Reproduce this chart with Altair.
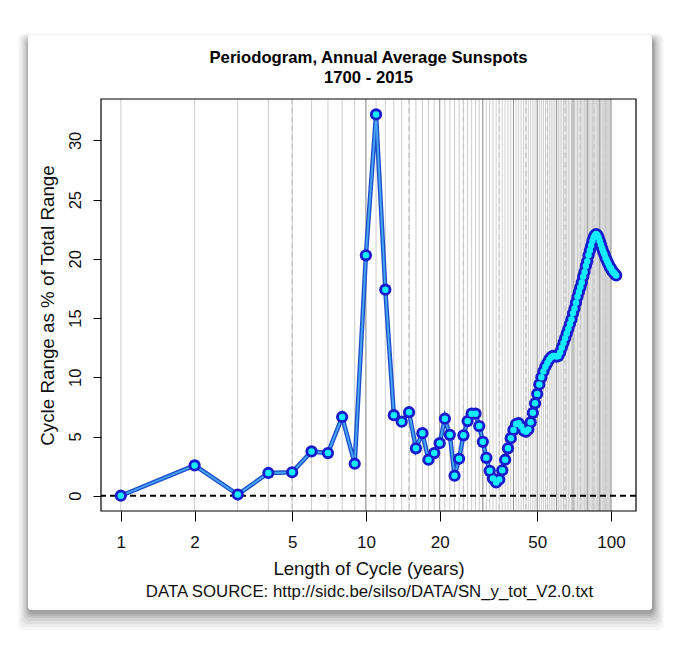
import altair as alt
import pandas as pd

# ---- data ----
cycle_years = list(range(1, 106))
cycle_range = [
    0.0, 2.56, 0.1, 1.92, 1.98, 3.74, 3.6, 6.65, 2.7, 20.3,
    32.2, 17.4, 6.8, 6.25, 7.05, 4.0, 5.28, 3.04, 3.6, 4.44,
    6.5, 5.14, 1.69, 3.12, 5.1, 6.3, 6.93, 6.93, 5.88, 4.55,
    3.2, 2.1, 1.45, 1.12, 1.37, 2.15, 3.04, 4.0, 4.86, 5.56,
    6.05, 6.13, 5.85, 5.5, 5.4, 5.6, 6.2, 7.0, 7.8, 8.6,
    9.4, 10.0, 10.5, 10.9, 11.2, 11.5, 11.7, 11.8, 11.8, 11.75,
    11.8, 12.1, 12.5, 12.9, 13.3, 13.7, 14.1, 14.5, 14.9, 15.4,
    15.8, 16.3, 16.8, 17.2, 17.6, 18.0, 18.5, 18.9, 19.4, 19.8,
    20.3, 20.7, 21.1, 21.5, 21.8, 22.0, 22.1, 22.0, 21.8, 21.5,
    21.2, 20.9, 20.6, 20.4, 20.1, 19.9, 19.7, 19.5, 19.3, 19.2,
    19.0, 18.9, 18.8, 18.7, 18.6,
]
x_tick_labels = [1, 2, 5, 10, 20, 50, 100]
y_tick_labels = [0, 5, 10, 15, 20, 25, 30]
grid_minor = list(range(1, 101))
grid_major = list(range(10, 101, 10))
grid_dashed = list(range(5, 100, 10))

title_lines = ["Periodogram, Annual Average Sunspots", "1700 - 2015"]
x_title = "Length of Cycle (years)"
y_title = "Cycle Range as % of Total Range"
source_note = "DATA SOURCE: http://sidc.be/silso/DATA/SN_y_tot_V2.0.txt"

FONT = "Liberation Sans"
W, H = 535, 412

df = pd.DataFrame({"cycle": cycle_years, "rng": cycle_range})

xscale = alt.Scale(type="log", domain=[0.83, 126.5], nice=False)
yscale = alt.Scale(domain=[-1.29, 33.5], nice=False, zero=False)

xaxis = alt.Axis(values=x_tick_labels, title=x_title, grid=False, domain=False,
                 tickSize=10, tickColor="black", tickWidth=1, zindex=2,
                 labelFont=FONT, labelFontSize=17, labelColor="#111111",
                 labelBaseline="alphabetic", labelPadding=26, labelFlush=False,
                 labelOverlap=False,
                 titleFont=FONT, titleFontSize=18.5, titleFontWeight="normal",
                 titleColor="#111111", titleX=W / 2, titleY=63,
                 titleBaseline="alphabetic", titleAlign="center")
yaxis = alt.Axis(values=y_tick_labels, title=y_title, grid=False, domain=False,
                 tickSize=8, tickColor="black", tickWidth=1, zindex=2,
                 labelFont=FONT, labelFontSize=16.5, labelColor="#111111",
                 labelAngle=270, labelAlign="center", labelBaseline="alphabetic",
                 labelPadding=13, labelFlush=False, labelOverlap=False,
                 titleFont=FONT, titleFontSize=18.8, titleFontWeight="normal",
                 titleColor="#111111", titleAngle=270, titleX=-48, titleY=H / 2,
                 titleBaseline="alphabetic", titleAlign="center")

X = alt.X("cycle:Q", scale=xscale, axis=xaxis)
Y = alt.Y("rng:Q", scale=yscale, axis=yaxis)

one = pd.DataFrame({"k": [0]})

# ---- card with soft drop shadow (decoration) ----
layers = []
card = dict(x1=-73, x2=551, y1=-64, y2=511)
for e, op in [(18, 0.035), (15, 0.04), (12, 0.05), (9, 0.06), (6, 0.07), (4, 0.08), (2, 0.09)]:
    layers.append(
        alt.Chart(one).mark_rect(fill="black", opacity=op, cornerRadius=6).encode(
            x=alt.value(card["x1"] - e * 0.6 + 1), x2=alt.value(card["x2"] + e * 0.6 + 1),
            y=alt.value(card["y1"] - e * 0.3 + 4), y2=alt.value(card["y2"] + e + 2),
        )
    )
layers.append(
    alt.Chart(one).mark_rect(fill="white", cornerRadius=3).encode(
        x=alt.value(card["x1"]), x2=alt.value(card["x2"]),
        y=alt.value(card["y1"]), y2=alt.value(card["y2"]),
    )
)

# ---- vertical grid ----
minor = alt.Chart(pd.DataFrame({"cycle": grid_minor})).mark_rule(
    color="#8f8f8f", strokeOpacity=0.45, strokeWidth=1).encode(x=X)
major = alt.Chart(pd.DataFrame({"cycle": grid_major})).mark_rule(
    color="#999999", strokeWidth=1).encode(x=X)
dashed = alt.Chart(pd.DataFrame({"cycle": grid_dashed})).mark_rule(
    color="#c8c8c8", strokeWidth=1.4, strokeDash=[5, 4]).encode(x=X)

zero = alt.Chart(one).mark_rule(color="black", strokeWidth=2, strokeDash=[6, 4]).encode(
    y=alt.datum(0, scale=yscale))

base = alt.Chart(df)
line_outer = base.mark_line(color="#1f4fc8", strokeWidth=4.5).encode(x=X, y=Y)
line_inner = base.mark_line(color="#46a6f5", strokeWidth=1.8).encode(x=X, y=Y)
dots_outer = base.mark_circle(color="#1a1acd", opacity=1, size=150).encode(x=X, y=Y)
dots_inner = base.mark_circle(color="#14ecff", opacity=1, size=42).encode(x=X, y=Y)

frame = alt.Chart(one).mark_rect(fill=None, fillOpacity=0, stroke="black", strokeWidth=1.2).encode(
    x=alt.value(0), x2=alt.value(W), y=alt.value(0), y2=alt.value(H))

texts = [
    alt.Chart(one).mark_text(text=title_lines[0], font=FONT, fontSize=16.7, fontWeight="bold",
                             color="black", align="center", baseline="alphabetic").encode(
        x=alt.value(W / 2), y=alt.value(-36.3)),
    alt.Chart(one).mark_text(text=title_lines[1], font=FONT, fontSize=16.7, fontWeight="bold",
                             color="black", align="center", baseline="alphabetic").encode(
        x=alt.value(W / 2), y=alt.value(-16.3)),
    alt.Chart(one).mark_text(text=source_note, font=FONT, fontSize=16.8, color="#111111",
                             align="center", baseline="alphabetic").encode(
        x=alt.value(W / 2 + 1), y=alt.value(497.7)),
]

chart = alt.layer(*layers, minor, major, dashed, zero, line_outer, line_inner,
                  dots_outer, dots_inner, frame, *texts).properties(
    width=W, height=H,
    autosize=alt.AutoSizeParams(type="none"),
    padding={"left": 93, "top": 91, "right": 37, "bottom": 128},
    background="white",
).configure_view(stroke=None)

chart.save("out.html", embed_options={"renderer": "svg", "actions": False})
